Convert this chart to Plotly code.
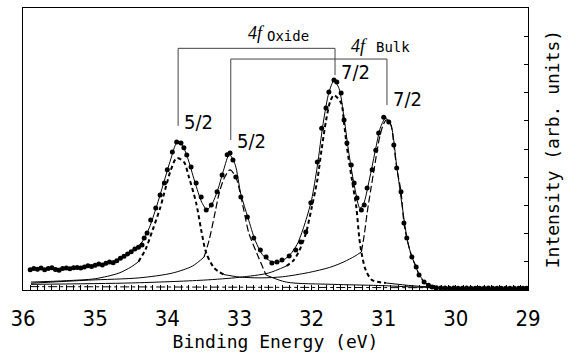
import plotly.graph_objects as go

# ---- measured spectrum (dots) ----
be_dots = [35.90, 35.85, 35.80, 35.75, 35.70, 35.65, 35.60, 35.55, 35.50, 35.45,
           35.40, 35.35, 35.30, 35.25, 35.20, 35.15, 35.10, 35.05, 35.00, 34.95,
           34.90, 34.85, 34.80, 34.75, 34.70, 34.65, 34.60, 34.55, 34.50, 34.45,
           34.40, 34.35, 34.32, 34.28, 34.23, 34.16, 34.10, 34.04, 34.00, 33.93,
           33.87, 33.81, 33.77, 33.73, 33.67, 33.60, 33.53, 33.46, 33.39, 33.31,
           33.24, 33.17, 33.13, 33.09, 33.05, 32.98, 32.89, 32.80, 32.71, 32.63,
           32.55, 32.48, 32.41, 32.31, 32.22, 32.15, 32.08, 32.01, 31.92, 31.86,
           31.80, 31.76, 31.69, 31.65, 31.59, 31.55, 31.51, 31.45, 31.41, 31.37,
           31.31, 31.27, 31.23, 31.16, 31.11, 31.07, 31.00, 30.93, 30.86, 30.82,
           30.76, 30.72, 30.68, 30.61, 30.55, 30.51, 30.44, 30.38, 30.33, 30.27,
           30.21, 30.15, 30.09, 30.03, 29.97, 29.91, 29.85, 29.79, 29.73, 29.67,
           29.61, 29.55, 29.49, 29.43, 29.37, 29.31, 29.25, 29.19, 29.13, 29.07, 29.02]
i_dots = [0.72, 0.76, 0.74, 0.78, 0.72, 0.76, 0.79, 0.73, 0.70, 0.76,
          0.78, 0.75, 0.79, 0.80, 0.78, 0.82, 0.86, 0.83, 0.88, 0.92,
          0.89, 0.95, 0.99, 0.97, 1.04, 1.13, 1.20, 1.28, 1.36, 1.45,
          1.52, 1.60, 1.84, 2.02, 2.48, 2.91, 3.37, 3.79, 4.26, 4.89,
          5.25, 5.21, 5.04, 4.79, 4.36, 3.79, 3.30, 2.84, 3.01, 3.48,
          4.08, 4.80, 4.86, 4.61, 4.01, 3.30, 2.59, 1.84, 1.42, 1.17,
          0.96, 0.99, 1.06, 1.21, 1.42, 1.70, 2.06, 3.09, 4.54, 5.74,
          6.45, 7.02, 7.45, 7.38, 6.99, 6.03, 5.21, 4.43, 3.79, 3.26,
          2.84, 3.01, 3.62, 4.26, 4.96, 5.57, 6.13, 5.96, 5.14, 4.33,
          3.48, 2.38, 1.84, 1.17, 0.82, 0.53, 0.28, 0.17, 0.11, 0.08,
          0.07, 0.07, 0.06, 0.07, 0.06, 0.06, 0.07, 0.06, 0.06, 0.06,
          0.06, 0.07, 0.06, 0.06, 0.06, 0.06, 0.06, 0.06, 0.06, 0.06, 0.06]

# ---- total fit (thin solid) ----
be_fit = [35.90, 35.50, 35.00, 34.80, 34.60, 34.45, 34.35, 34.25, 34.15, 34.05,
          33.95, 33.87, 33.80, 33.72, 33.62, 33.52, 33.45, 33.38, 33.30, 33.22,
          33.14, 33.06, 32.98, 32.88, 32.78, 32.68, 32.55, 32.42, 32.30, 32.20,
          32.10, 32.00, 31.92, 31.84, 31.76, 31.69, 31.62, 31.55, 31.48, 31.40,
          31.33, 31.28, 31.20, 31.12, 31.04, 30.97, 30.90, 30.82, 30.74, 30.66,
          30.58, 30.50, 30.42, 30.32, 30.20, 30.00, 29.50, 29.00]
i_fit = [0.73, 0.77, 0.88, 0.98, 1.18, 1.45, 1.70, 2.20, 2.95, 3.80,
         4.65, 5.20, 5.15, 4.70, 3.85, 3.10, 2.85, 3.05, 3.55, 4.25,
         4.80, 4.45, 3.40, 2.55, 1.75, 1.25, 1.00, 1.02, 1.25, 1.62,
         2.30, 3.20, 4.40, 5.90, 7.00, 7.42, 7.15, 6.10, 4.80, 3.60,
         2.90, 3.05, 3.90, 4.90, 5.80, 6.10, 5.85, 4.40, 2.90, 1.62,
         0.98, 0.52, 0.25, 0.11, 0.06, 0.04, 0.03, 0.03]

# ---- fitted components: cores (dashed) ----
be_c1 = [34.40, 34.30, 34.20, 34.10, 34.02, 33.95, 33.87, 33.77, 33.70, 33.60, 33.53, 33.46, 33.35, 33.22]
i_c1 = [1.00, 1.45, 2.15, 2.90, 3.65, 4.26, 4.68, 4.54, 4.00, 3.09, 2.13, 1.31, 0.78, 0.55]
be_c2 = [33.49, 33.42, 33.35, 33.28, 33.21, 33.13, 33.05, 33.00, 32.94, 32.87, 32.76, 32.63]
i_c2 = [1.17, 1.77, 2.59, 3.44, 3.97, 4.26, 4.00, 3.55, 2.84, 2.02, 1.31, 0.53]
be_c3 = [32.35, 32.25, 32.17, 32.08, 32.00, 31.92, 31.86, 31.80, 31.74, 31.69,
         31.59, 31.55, 31.51, 31.44, 31.38, 31.34, 31.31, 31.25, 31.16, 30.97]
i_c3 = [0.85, 1.05, 1.40, 2.00, 2.90, 3.90, 5.00, 6.00, 6.70, 6.91,
        6.63, 5.92, 5.07, 3.90, 2.94, 1.88, 1.35, 0.71, 0.35, 0.25]
be_c4 = [31.31, 31.27, 31.23, 31.18, 31.13, 31.09, 31.05, 31.00, 30.96, 30.90,
         30.86, 30.82, 30.76, 30.72, 30.68, 30.61, 30.55, 30.51, 30.44, 30.33, 30.10, 29.00]
i_c4 = [1.35, 1.95, 2.73, 3.55, 4.33, 4.96, 5.50, 5.90, 6.03, 5.85,
        5.14, 4.33, 3.48, 2.38, 1.84, 1.17, 0.82, 0.53, 0.28, 0.11, 0.04, 0.02]

# ---- component tails (thin solid) ----
be_t1 = [35.89, 35.40, 35.00, 34.67, 34.50, 34.40]
i_t1 = [0.28, 0.33, 0.40, 0.60, 0.82, 1.00]
be_t2 = [35.89, 35.09, 34.39, 33.93, 33.65, 33.49]
i_t2 = [0.24, 0.35, 0.43, 0.60, 0.85, 1.17]
be_t3 = [35.89, 34.50, 33.50, 33.00, 32.60, 32.35]
i_t3 = [0.20, 0.25, 0.35, 0.45, 0.60, 0.85]
be_t4 = [33.22, 33.00, 32.70, 32.40, 32.04, 31.75, 31.55, 31.40, 31.31]
i_t4 = [0.55, 0.46, 0.43, 0.47, 0.62, 0.80, 1.00, 1.20, 1.35]
be_t5 = [32.63, 32.35, 31.70, 31.07, 30.50, 29.00]
i_t5 = [0.53, 0.28, 0.20, 0.16, 0.10, 0.05]
be_t6 = [30.97, 30.60, 30.30]
i_t6 = [0.25, 0.15, 0.10]
be_bg = [35.90, 30.30]
i_bg = [0.12, 0.08]

# ---- peak positions for the labels ----
peak_be = [33.85, 33.12, 31.675, 30.955]
peak_names = ["5/2", "5/2", "7/2", "7/2"]

fig = go.Figure()
blk = "black"

def line(x, y, width=1.0, dash="solid", shape="spline"):
    fig.add_trace(go.Scatter(x=x, y=y, mode="lines", hoverinfo="skip",
                             line=dict(color=blk, width=width, dash=dash, shape=shape, smoothing=0.8)))

for bx, iy in [(be_t1, i_t1), (be_t2, i_t2), (be_t3, i_t3), (be_t4, i_t4), (be_t5, i_t5), (be_t6, i_t6)]:
    line(bx, iy, width=1.0)
line(be_bg, i_bg, width=1.0, dash="dashdot", shape="linear")
line(be_c1, i_c1, width=2.0, dash="4px,3px")
line(be_c3, i_c3, width=2.0, dash="4px,3px")
line(be_c2, i_c2, width=1.2, dash="7px,3px")
line(be_c4, i_c4, width=1.2, dash="7px,3px")
line(be_fit, i_fit, width=1.0)
fig.add_trace(go.Scatter(x=be_dots, y=i_dots, mode="markers", hoverinfo="skip",
                         marker=dict(color=blk, size=5)))

# brackets
gray = "#444444"
ox_y, bu_y = 8.57, 8.19
drops = [5.82, 5.32, 7.62, 6.56]
tops = [ox_y, bu_y, ox_y, bu_y]
for k in range(4):
    fig.add_shape(type="line", x0=peak_be[k], x1=peak_be[k], y0=drops[k], y1=tops[k],
                  line=dict(color=gray, width=1))
fig.add_shape(type="line", x0=peak_be[0], x1=peak_be[2], y0=ox_y, y1=ox_y, line=dict(color=gray, width=1))
fig.add_shape(type="line", x0=peak_be[1], x1=peak_be[3], y0=bu_y, y1=bu_y, line=dict(color=gray, width=1))

narrow = "Liberation Sans Narrow, DejaVu Sans Condensed, Arial Narrow, sans-serif"
mono = "DejaVu Sans Mono, Liberation Mono, monospace"
serif = "Liberation Serif, DejaVu Serif, serif"

lab_y = [5.94, 5.30, 7.72, 6.76]
for k in range(4):
    fig.add_annotation(x=peak_be[k] - 0.06, y=lab_y[k], xref="x", yref="y", text=peak_names[k],
                       showarrow=False, xanchor="left", yanchor="middle",
                       font=dict(family=narrow, size=20, color=blk))

fig.add_annotation(x=32.76, y=9.11, text="<i>4f</i>", showarrow=False, xanchor="center", yanchor="middle",
                   font=dict(family=serif, size=18, color=blk))
fig.add_annotation(x=32.33, y=9.0, text="Oxide", showarrow=False, xanchor="center", yanchor="middle",
                   font=dict(family=mono, size=14, color=blk))
fig.add_annotation(x=31.34, y=8.66, text="<i>4f</i>", showarrow=False, xanchor="center", yanchor="middle",
                   font=dict(family=serif, size=18, color=blk))
fig.add_annotation(x=30.87, y=8.62, text="Bulk", showarrow=False, xanchor="center", yanchor="middle",
                   font=dict(family=mono, size=14, color=blk))

fig.update_layout(
    width=574, height=355,
    margin=dict(l=23, r=46, t=8, b=65, autoexpand=False),
    paper_bgcolor="white", plot_bgcolor="white",
    showlegend=False,
    xaxis=dict(range=[36.0, 29.0], tickmode="array", tickvals=[36, 35, 34, 33, 32, 31, 30, 29],
               ticktext=["36", "35", "34", "33", "32", "31", "30", "29"], automargin=False,
               ticks="inside", ticklen=5, tickcolor=blk, showgrid=False, zeroline=False,
               showline=True, linecolor=blk, linewidth=1, mirror=True,
               minor=dict(dtick=0.1, ticks="inside", ticklen=5, tickcolor=blk, showgrid=False),
               tickfont=dict(family=narrow, size=22, color=blk), ticklabelstandoff=9,
               title=dict(text="Binding Energy (eV)", font=dict(family=mono, size=18, color=blk), standoff=0)),
    yaxis=dict(range=[0, 10], side="right", dtick=1, tick0=0, ticks="inside", ticklen=4, tickcolor=blk,
               showticklabels=False, showgrid=False, zeroline=False, automargin=False,
               showline=True, linecolor=blk, linewidth=1, mirror=True,
               title=dict(text="Intensity (arb. units)", font=dict(family=mono, size=18, color=blk), standoff=18)),
)

fig.write_html("out.html", config={"displayModeBar": False},
               post_script="document.body.style.margin='0';document.body.style.overflow='hidden';")
